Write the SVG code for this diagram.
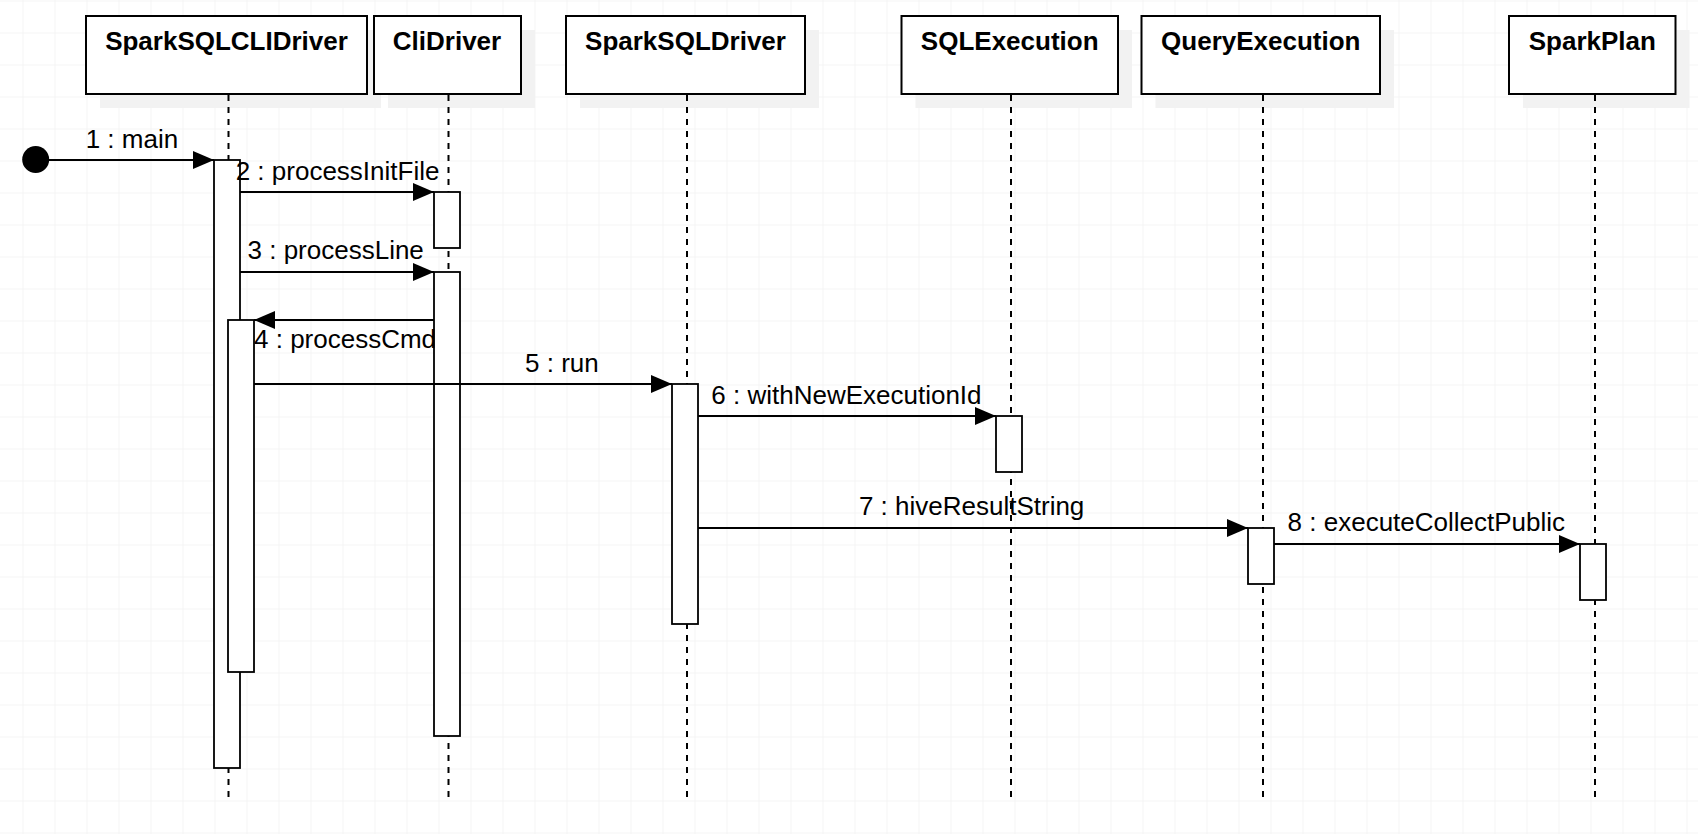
<svg xmlns="http://www.w3.org/2000/svg" width="1698" height="834" viewBox="0 0 1698 834">
<defs>
<style>
.shadow{fill:#f2f2f2;stroke:none}
.box{fill:#ffffff;stroke:#000000;stroke-width:2}
.title{font-family:"Liberation Sans",Arial,sans-serif;font-size:26px;font-weight:bold;fill:#000000;text-anchor:middle}
.life{stroke:#000000;stroke-width:2;stroke-dasharray:6 6;fill:none}
.act{fill:#ffffff;stroke:#000000;stroke-width:1.8}
.msg{stroke:#000000;stroke-width:1.8;fill:none;marker-end:url(#block)}
.lbl{font-family:"Liberation Sans",Arial,sans-serif;font-size:26px;fill:#000000}
</style>
<marker id="block" markerUnits="userSpaceOnUse" markerWidth="22" markerHeight="20" refX="21" refY="9" orient="auto">
<path d="M0,0 L21,9 L0,18 Z" fill="#000000"/>
</marker>
<pattern id="gp" x="22.5" y="0.5" width="32" height="32" patternUnits="userSpaceOnUse">
<path d="M0,0 H32 M0,0 V32" stroke="#ebebeb" stroke-width="1" fill="none"/>
</pattern>
</defs>
<rect x="0" y="0" width="1698" height="834" fill="#ffffff"/>
<rect x="0" y="0" width="1698" height="834" fill="url(#gp)"/>

<g id="SparkSQLCLIDriver">
<rect class="shadow" x="100" y="30" width="281" height="78"/>
<rect class="box" x="86" y="16" width="281" height="78"/>
<text class="title" x="226.5" y="50">SparkSQLCLIDriver</text>
<line class="life" x1="228.5" y1="95" x2="228.5" y2="798"/>
<rect class="act" x="214" y="160" width="26" height="608"/>
<rect class="act" x="228" y="320" width="26" height="352"/>
</g>

<g id="CliDriver">
<rect class="shadow" x="388" y="30" width="147" height="78"/>
<rect class="box" x="374" y="16" width="147" height="78"/>
<text class="title" x="447" y="50">CliDriver</text>
<line class="life" x1="448.5" y1="95" x2="448.5" y2="798"/>
<rect class="act" x="434" y="192" width="26" height="56"/>
<rect class="act" x="434" y="272" width="26" height="464"/>
</g>

<g id="SparkSQLDriver">
<rect class="shadow" x="580" y="30" width="239" height="78"/>
<rect class="box" x="566" y="16" width="239" height="78"/>
<text class="title" x="685.5" y="50">SparkSQLDriver</text>
<line class="life" x1="687" y1="95" x2="687" y2="798"/>
<rect class="act" x="672" y="384" width="26" height="240"/>
</g>

<g id="SQLExecution">
<rect class="shadow" x="915.5" y="30" width="216.5" height="78"/>
<rect class="box" x="901.5" y="16" width="216.5" height="78"/>
<text class="title" x="1009.7" y="50">SQLExecution</text>
<line class="life" x1="1011" y1="95" x2="1011" y2="798"/>
<rect class="act" x="996" y="416" width="26" height="56"/>
</g>

<g id="QueryExecution">
<rect class="shadow" x="1155.5" y="30" width="238.5" height="78"/>
<rect class="box" x="1141.5" y="16" width="238.5" height="78"/>
<text class="title" x="1260.8" y="50">QueryExecution</text>
<line class="life" x1="1263" y1="95" x2="1263" y2="798"/>
<rect class="act" x="1248" y="528" width="26" height="56"/>
</g>

<g id="SparkPlan">
<rect class="shadow" x="1523" y="30" width="166.5" height="78"/>
<rect class="box" x="1509" y="16" width="166.5" height="78"/>
<text class="title" x="1592.3" y="50">SparkPlan</text>
<line class="life" x1="1595" y1="95" x2="1595" y2="798"/>
<rect class="act" x="1580" y="544" width="26" height="56"/>
</g>

<g id="start">
<circle cx="35.7" cy="159.5" r="13.5" fill="#000000"/>
</g>

<g id="connectors">
<line class="msg" x1="36" y1="160" x2="214" y2="160"/>
<line class="msg" x1="240" y1="192" x2="434" y2="192"/>
<line class="msg" x1="240" y1="272" x2="434" y2="272"/>
<line class="msg" x1="434" y1="320" x2="254" y2="320"/>
<line class="msg" x1="254" y1="384" x2="672" y2="384"/>
<line class="msg" x1="698" y1="416" x2="996" y2="416"/>
<line class="msg" x1="698" y1="528" x2="1248" y2="528"/>
<line class="msg" x1="1274" y1="544" x2="1580" y2="544"/>
</g>

<g id="labels">
<text class="lbl" x="85.7" y="147.7">1 : main</text>
<text class="lbl" x="235.7" y="180">2 : processInitFile</text>
<text class="lbl" x="247.5" y="259.3">3 : processLine</text>
<text class="lbl" x="254" y="347.7">4 : processCmd</text>
<text class="lbl" x="525" y="371.7">5 : run</text>
<text class="lbl" x="711.3" y="404">6 : withNewExecutionId</text>
<text class="lbl" x="858.9" y="515.3">7 : hiveResultString</text>
<text class="lbl" x="1287.6" y="530.7">8 : executeCollectPublic</text>
</g>
</svg>
